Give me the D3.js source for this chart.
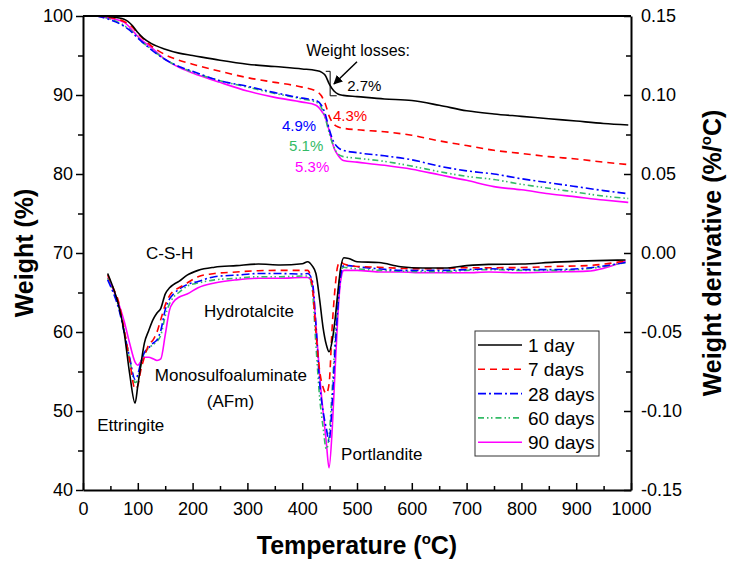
<!DOCTYPE html>
<html>
<head>
<meta charset="utf-8">
<script src="https://cdn.jsdelivr.net/npm/d3@7"></script>
<style>
  body { margin: 0; background: #fff; }
  text { font-family: Arial, "Liberation Sans", sans-serif; }
</style>
</head>
<body>
<script>
var seriesNames = ["1 day", "7 days", "28 days", "60 days", "90 days"];
var seriesColors = ["#000000", "#ff0000", "#0000ff", "#33bb66", "#ff00ff"];
var seriesDash = [null, "7,5", "8,3,2,3", "6,3,1.5,2.5,1.5,3", null];
var lossLabels = ["2.7%", "4.3%", "4.9%", "5.1%", "5.3%"];

// weight (TG), %
var tgTemp = [25, 50, 75, 90, 100, 110, 125, 150, 175, 200, 250, 300, 350, 400, 425, 435, 442, 450, 458, 466, 475, 500, 550, 600, 650, 700, 750, 800, 850, 900, 950, 995];
var tg1d  = [100, 99.9, 99.6, 98.8, 97.9, 97.2, 96.5, 95.8, 95.3, 95.0, 94.4, 93.9, 93.6, 93.3, 93.1, 92.9, 92.5, 91.3, 90.5, 90.1, 89.95, 89.8, 89.5, 89.3, 88.7, 88.0, 87.6, 87.3, 87.0, 86.7, 86.4, 86.2];
var tg7d  = [100, 99.8, 99.3, 98.6, 97.8, 97.1, 96.2, 95.1, 94.4, 93.9, 93.0, 92.2, 91.6, 91.0, 90.5, 89.9, 88.9, 87.2, 86.3, 85.95, 85.8, 85.6, 85.35, 84.9, 84.2, 83.6, 83.0, 82.6, 82.2, 81.9, 81.5, 81.2];
var tg28d = [100, 99.5, 98.7, 97.9, 97.2, 96.6, 95.7, 94.5, 93.6, 93.0, 91.8, 91.1, 90.3, 89.6, 89.3, 88.7, 87.6, 85.5, 84.0, 83.3, 83.0, 82.7, 82.3, 81.8, 81.0, 80.4, 80.0, 79.4, 78.9, 78.4, 77.9, 77.5];
var tg60d = [100, 99.6, 98.8, 98.0, 97.3, 96.6, 95.8, 94.5, 93.6, 92.9, 91.8, 91.0, 90.2, 89.5, 89.1, 88.4, 87.1, 85.0, 83.4, 82.5, 82.2, 82.0, 81.6, 81.0, 80.3, 79.7, 79.3, 78.7, 78.2, 77.7, 77.2, 76.9];
var tg90d = [100, 99.7, 99.2, 98.2, 97.4, 96.8, 96.0, 94.5, 93.5, 92.8, 91.6, 90.5, 89.7, 89.1, 88.7, 88.0, 87.2, 85.3, 83.3, 82.3, 81.7, 81.5, 81.1, 80.6, 79.9, 79.2, 78.4, 78.0, 77.5, 77.1, 76.7, 76.4];

// weight derivative (DTG), %/oC
var dtgTemp = [45, 55, 65, 75, 85, 95, 100, 105, 112, 120, 128, 135, 142, 150, 158, 165, 175, 190, 210, 240, 280, 320, 360, 400, 410, 418, 425, 432, 438, 444, 449, 455, 460, 465, 470, 476, 485, 500, 540, 580, 620, 660, 700, 740, 800, 860, 920, 990];
var dtg1d  = [-0.013, -0.022, -0.033, -0.050, -0.076, -0.095, -0.084, -0.072, -0.057, -0.049, -0.042, -0.038, -0.035, -0.026, -0.022, -0.020, -0.018, -0.014, -0.011, -0.009, -0.008, -0.007, -0.0076, -0.0068, -0.0055, -0.008, -0.013, -0.030, -0.047, -0.058, -0.0625, -0.055, -0.042, -0.025, -0.010, -0.003, -0.0035, -0.0055, -0.006, -0.0087, -0.0095, -0.0095, -0.008, -0.0072, -0.007, -0.0058, -0.005, -0.0044];
var dtg7d  = [-0.014, -0.022, -0.031, -0.048, -0.068, -0.086, -0.084, -0.075, -0.066, -0.058, -0.055, -0.050, -0.042, -0.033, -0.027, -0.024, -0.022, -0.019, -0.015, -0.013, -0.012, -0.0112, -0.011, -0.011, -0.011, -0.020, -0.050, -0.075, -0.085, -0.089, -0.083, -0.045, -0.022, -0.008, -0.0055, -0.007, -0.0078, -0.0085, -0.009, -0.0097, -0.010, -0.0098, -0.0093, -0.0093, -0.0092, -0.0085, -0.008, -0.005];
var dtg28d = [-0.017, -0.025, -0.035, -0.050, -0.066, -0.080, -0.077, -0.070, -0.063, -0.060, -0.057, -0.055, -0.049, -0.036, -0.029, -0.026, -0.023, -0.020, -0.018, -0.015, -0.014, -0.013, -0.013, -0.0133, -0.013, -0.017, -0.045, -0.083, -0.100, -0.111, -0.119, -0.093, -0.061, -0.035, -0.015, -0.008, -0.008, -0.0087, -0.010, -0.011, -0.011, -0.011, -0.0105, -0.010, -0.0105, -0.0105, -0.0095, -0.006];
var dtg60d = [-0.016, -0.024, -0.034, -0.049, -0.067, -0.082, -0.080, -0.072, -0.064, -0.060, -0.058, -0.056, -0.052, -0.040, -0.032, -0.028, -0.025, -0.021, -0.019, -0.017, -0.016, -0.015, -0.015, -0.0146, -0.0146, -0.022, -0.058, -0.092, -0.110, -0.124, -0.116, -0.085, -0.055, -0.028, -0.012, -0.009, -0.0095, -0.010, -0.011, -0.0115, -0.0118, -0.0118, -0.011, -0.0105, -0.011, -0.011, -0.010, -0.006];
var dtg90d = [-0.0155, -0.023, -0.032, -0.043, -0.057, -0.069, -0.071, -0.069, -0.066, -0.066, -0.067, -0.068, -0.067, -0.052, -0.036, -0.031, -0.028, -0.026, -0.022, -0.019, -0.017, -0.016, -0.016, -0.0155, -0.0155, -0.019, -0.045, -0.078, -0.100, -0.120, -0.136, -0.110, -0.074, -0.040, -0.018, -0.011, -0.011, -0.011, -0.012, -0.012, -0.0125, -0.0125, -0.0125, -0.012, -0.0125, -0.012, -0.0115, -0.005];

var xTicks = [0, 100, 200, 300, 400, 500, 600, 700, 800, 900, 1000];
var weightTicks = [40, 50, 60, 70, 80, 90, 100];
var derivTicks = [-0.15, -0.10, -0.05, 0, 0.05, 0.10, 0.15];

(function(){
    var svgWidth = 731, svgHeight = 562;
    var left = 83, right = 631, top = 16, bottom = 490;
    var tgSeries = [tg1d, tg7d, tg28d, tg60d, tg90d];
    var dtgSeries = [dtg1d, dtg7d, dtg28d, dtg60d, dtg90d];

    var svg = d3.select("body").append("svg")
        .attr("width", svgWidth).attr("height", svgHeight);

    var x = d3.scaleLinear().domain([0, 1000]).range([left, right]);
    var yW = d3.scaleLinear().domain([40, 100]).range([bottom, top]);
    var yD = d3.scaleLinear().domain([-0.15, 0.15]).range([bottom, top]);

    // curves
    var tgLine = d3.line().curve(d3.curveMonotoneX)
        .x(function (d) { return x(d[0]); }).y(function (d) { return yW(d[1]); });
    var dtgLine = d3.line().curve(d3.curveMonotoneX)
        .x(function (d) { return x(d[0]); }).y(function (d) { return yD(d[1]); });

    var curves = svg.append("g").attr("fill", "none").attr("stroke-width", 1.6);
    // draw in reverse so 1 day sits on top
    for (var i = seriesNames.length - 1; i >= 0; i--) {
        curves.append("path")
            .attr("d", tgLine(tgTemp.map(function (t, k) { return [t, tgSeries[i][k]]; })))
            .attr("stroke", seriesColors[i])
            .attr("stroke-dasharray", seriesDash[i]);
        curves.append("path")
            .attr("d", dtgLine(dtgTemp.map(function (t, k) { return [t, dtgSeries[i][k]]; })))
            .attr("stroke", seriesColors[i])
            .attr("stroke-dasharray", seriesDash[i]);
    }

    // axes
    function styleAxis(g) {
        g.select(".domain").attr("stroke-width", 2);
        g.selectAll(".tick line").attr("stroke-width", 1.5);
        g.selectAll("text").attr("font-size", 18).attr("fill", "#000")
            .style("font-family", "Arial, 'Liberation Sans', sans-serif");
    }

    svg.append("g").attr("transform", "translate(" + left + ",0)")
        .call(d3.axisLeft(yW).tickValues(weightTicks).tickSize(7).tickSizeOuter(0).tickPadding(3))
        .call(styleAxis);
    svg.append("g").attr("transform", "translate(" + left + ",0)")
        .call(d3.axisLeft(yW).tickValues(d3.range(45, 100, 10)).tickSize(5).tickFormat(""))
        .call(function (g) { g.select(".domain").remove(); g.selectAll("line").attr("stroke-width", 1.5); });

    svg.append("g").attr("transform", "translate(" + right + ",0)")
        .call(d3.axisRight(yD).tickValues(derivTicks).tickSize(-7).tickSizeOuter(0).tickPadding(10)
            .tickFormat(function (d) { return (d < -1e-9 ? "-" : "") + Math.abs(d).toFixed(2); }))
        .call(styleAxis);
    svg.append("g").attr("transform", "translate(" + right + ",0)")
        .call(d3.axisRight(yD).tickValues([-0.125, -0.075, -0.025, 0.025, 0.075, 0.125]).tickSize(-5).tickFormat(""))
        .call(function (g) { g.select(".domain").remove(); g.selectAll("line").attr("stroke-width", 1.5); });

    svg.append("g").attr("transform", "translate(0," + bottom + ")")
        .call(d3.axisBottom(x).tickValues(xTicks).tickSize(-7).tickSizeOuter(0).tickPadding(12)
            .tickFormat(d3.format("d")))
        .call(styleAxis);
    svg.append("g").attr("transform", "translate(0," + bottom + ")")
        .call(d3.axisBottom(x).tickValues(d3.range(50, 1000, 100)).tickSize(-4).tickFormat(""))
        .call(function (g) { g.select(".domain").remove(); g.selectAll("line").attr("stroke-width", 1.5); });

    svg.append("line").attr("x1", left).attr("x2", right).attr("y1", top).attr("y2", top)
        .attr("stroke", "#000").attr("stroke-width", 2);

    // axis titles
    var yMid = (top + bottom) / 2;
    var t1 = svg.append("text").attr("transform", "translate(33," + yMid + ") rotate(-90)")
        .attr("text-anchor", "middle").attr("font-size", 25).attr("font-weight", "bold");
    t1.text("Weight (%)");

    var t2 = svg.append("text").attr("transform", "translate(721," + yMid + ") rotate(-90)")
        .attr("text-anchor", "middle").attr("font-size", 25).attr("font-weight", "bold");
    t2.append("tspan").text("Weight derivative (%/");
    t2.append("tspan").attr("font-size", 15).attr("dy", -10).text("o");
    t2.append("tspan").attr("dy", 10).text("C)");

    var t3 = svg.append("text").attr("x", (left + right) / 2).attr("y", 554)
        .attr("text-anchor", "middle").attr("font-size", 25).attr("font-weight", "bold");
    t3.append("tspan").text("Temperature (");
    t3.append("tspan").attr("font-size", 15).attr("dy", -10).text("o");
    t3.append("tspan").attr("dy", 10).text("C)");

    // weight loss annotations
    svg.append("text").attr("x", x(502)).attr("y", yW(95.0))
        .attr("text-anchor", "middle").attr("font-size", 16).text("Weight losses:");

    var defs = svg.append("defs");
    defs.append("marker").attr("id", "arrow").attr("viewBox", "0 0 10 10")
        .attr("refX", 9).attr("refY", 5).attr("markerWidth", 9).attr("markerHeight", 9)
        .attr("markerUnits", "userSpaceOnUse").attr("orient", "auto")
        .append("path").attr("d", "M0,0 L10,5 L0,10 z").attr("fill", "#000");

    svg.append("line").attr("x1", x(500)).attr("y1", yW(94.2))
        .attr("x2", x(458)).attr("y2", yW(91.4))
        .attr("stroke", "#000").attr("stroke-width", 1.5).attr("marker-end", "url(#arrow)");

    svg.append("path")
        .attr("d", "M" + x(443) + "," + yW(93.0) + "H" + x(451) + "V" + yW(89.9) + "H" + x(463))
        .attr("fill", "none").attr("stroke", "#000").attr("stroke-width", 1);

    var lossPos = [[482, 90.5], [456, 86.7], [363, 85.4], [376, 82.9], [387, 80.25]];
    lossLabels.forEach(function (s, i) {
        svg.append("text").attr("x", x(lossPos[i][0])).attr("y", yW(lossPos[i][1]))
            .attr("font-size", 15).attr("fill", seriesColors[i]).text(s);
    });

    // phase labels
    var phases = [["C-S-H", 115, 69.2], ["Hydrotalcite", 221, 61.9], ["Monosulfoaluminate", 131, 53.8],
        ["(AFm)", 226, 50.5], ["Ettringite", 26, 47.5], ["Portlandite", 471, 43.8]];
    phases.forEach(function (p) {
        svg.append("text").attr("x", x(p[1])).attr("y", yW(p[2]))
            .attr("font-size", 17).text(p[0]);
    });

    // legend
    var lg = svg.append("g").attr("transform", "translate(475,331)");
    lg.append("rect").attr("width", 124).attr("height", 125)
        .attr("fill", "#fff").attr("stroke", "#333").attr("stroke-width", 1);
    seriesNames.forEach(function (name, i) {
        var cy = 14 + i * 24.3;
        lg.append("line").attr("x1", 3).attr("x2", 47).attr("y1", cy).attr("y2", cy)
            .attr("stroke", seriesColors[i]).attr("stroke-width", 1.6)
            .attr("stroke-dasharray", seriesDash[i]);
        lg.append("text").attr("x", 53).attr("y", cy + 7).attr("font-size", 19).text(name);
    });
})();
</script>
</body>
</html>
